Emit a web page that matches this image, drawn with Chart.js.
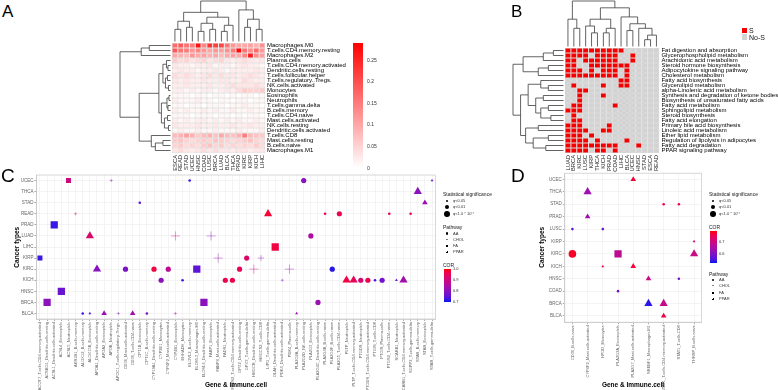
<!DOCTYPE html>
<html>
<head>
<meta charset="utf-8">
<title>Lipid metabolism and immune infiltration</title>
<script src="https://cdn.jsdelivr.net/npm/chart.js@4.4.1/dist/chart.umd.min.js"></script>
<style>
  body { margin:0; background:#fff; font-family:"Liberation Sans", Arial, sans-serif; }
  #page { position:relative; width:778px; height:390px; overflow:hidden; background:#fff; }
  #page canvas { position:absolute; }
  .t { position:absolute; white-space:nowrap; line-height:1; color:#1a1a1a; }
</style>
</head>
<body>
<div id="page">
  <canvas id="chartA" width="300" height="185" style="left:100px;top:0"></canvas>
  <canvas id="chartB" width="273" height="185" style="left:505px;top:0"></canvas>
  <canvas id="chartC" width="445" height="222" style="left:0;top:168px"></canvas>
  <canvas id="chartD" width="205" height="222" style="left:505px;top:168px"></canvas>
</div>
<script>
// ---------------- panel A : immune cell fraction heatmap ----------------
const cancerA = ["ESCA","READ","STAD","UCEC","HNSC","COAD","LUSC","BRCA","LUAD","BLCA","THCA","PRAD","KIRC","KIRP","KICH","LIHC"];
const cellsA = ["Macrophages.M0","T.cells.CD4.memory.resting","Macrophages.M2","Plasma.cells",
  "T.cells.CD4.memory.activated","Dendritic.cells.resting","T.cells.follicular.helper","T.cells.regulatory..Tregs.",
  "NK.cells.activated","Monocytes","Eosinophils","Neutrophils","T.cells.gamma.delta","B.cells.memory",
  "T.cells.CD4.naive","Mast.cells.activated","NK.cells.resting","Dendritic.cells.activated","T.cells.CD8",
  "Mast.cells.resting","B.cells.naive","Macrophages.M1"];
const fracA = [
  [0.17,0.19,0.16,0.15,0.27,0.14,0.23,0.22,0.21,0.16,0.12,0.10,0.10,0.11,0.09,0.13],
  [0.19,0.16,0.15,0.12,0.14,0.12,0.10,0.12,0.11,0.13,0.15,0.28,0.16,0.13,0.17,0.12],
  [0.10,0.09,0.08,0.12,0.10,0.11,0.09,0.10,0.08,0.10,0.11,0.10,0.14,0.26,0.13,0.11],
  [0.06,0.04,0.05,0.03,0.04,0.05,0.03,0.04,0.05,0.03,0.02,0.03,0.04,0.03,0.02,0.03],
  [0.03,0.02,0.02,0.01,0.02,0.02,0.03,0.01,0.02,0.02,0.01,0.02,0.03,0.02,0.02,0.01],
  [0.02,0.03,0.02,0.02,0.01,0.02,0.02,0.03,0.02,0.01,0.02,0.02,0.02,0.02,0.03,0.02],
  [0.04,0.03,0.04,0.03,0.02,0.03,0.04,0.03,0.04,0.03,0.03,0.02,0.03,0.04,0.03,0.02],
  [0.03,0.02,0.03,0.02,0.02,0.03,0.02,0.02,0.03,0.03,0.02,0.02,0.04,0.03,0.02,0.02],
  [0.02,0.02,0.03,0.02,0.02,0.02,0.03,0.02,0.02,0.03,0.04,0.03,0.03,0.03,0.04,0.03],
  [0.02,0.02,0.01,0.02,0.01,0.02,0.02,0.01,0.02,0.03,0.02,0.04,0.06,0.05,0.05,0.06],
  [0.01,0.01,0.01,0.00,0.01,0.01,0.00,0.01,0.01,0.00,0.01,0.00,0.01,0.01,0.00,0.01],
  [0.02,0.01,0.01,0.01,0.02,0.01,0.01,0.00,0.01,0.01,0.00,0.01,0.01,0.00,0.01,0.01],
  [0.01,0.01,0.00,0.01,0.01,0.00,0.01,0.01,0.01,0.00,0.01,0.01,0.02,0.01,0.01,0.00],
  [0.02,0.01,0.02,0.01,0.01,0.02,0.01,0.02,0.01,0.01,0.02,0.01,0.01,0.02,0.01,0.01],
  [0.01,0.01,0.01,0.00,0.01,0.01,0.01,0.00,0.01,0.01,0.00,0.01,0.00,0.01,0.01,0.00],
  [0.02,0.01,0.02,0.01,0.02,0.02,0.01,0.02,0.01,0.02,0.01,0.02,0.01,0.01,0.02,0.01],
  [0.03,0.02,0.02,0.02,0.03,0.02,0.02,0.03,0.02,0.02,0.03,0.02,0.02,0.03,0.02,0.02],
  [0.01,0.02,0.01,0.01,0.02,0.01,0.01,0.02,0.01,0.01,0.01,0.02,0.01,0.01,0.01,0.02],
  [0.08,0.09,0.11,0.09,0.06,0.08,0.09,0.07,0.10,0.08,0.07,0.09,0.15,0.08,0.07,0.06],
  [0.06,0.07,0.05,0.04,0.05,0.06,0.05,0.07,0.06,0.05,0.04,0.05,0.06,0.07,0.05,0.04],
  [0.05,0.06,0.04,0.05,0.04,0.06,0.07,0.05,0.06,0.04,0.05,0.04,0.05,0.04,0.06,0.04],
  [0.03,0.04,0.03,0.02,0.03,0.04,0.03,0.04,0.03,0.03,0.02,0.03,0.03,0.02,0.03,0.03]
];
const fracMaxA = 0.29;
const fracTicksA = [0.25, 0.2, 0.15, 0.1, 0.05, 0];
// dendrograms: [height, left, right], leaves are display indices
const rowTreeA = [1.0,
  [0.58, [0.42, 0, 1], 2],
  [0.62,
    [0.23,
      [0.15, [0.08, 3, [0.05, 4, 5]], [0.1, [0.06, 6, 7], [0.04, 8, 9]]],
      [0.18, [0.07, [0.03, 10, 11], [0.05, 12, 13]], [0.12, [0.06, 14, 15], [0.04, 16, 17]]]],
    [0.38, 18, [0.3, [0.15, 19, 20], 21]]]];
const colTreeA = [1.0,
  [0.72, [0.5, [0.3, 0, 1], [0.35, 2, 3]], [0.6, [0.45, [0.25, 4, 5], [0.3, 6, 7]], [0.4, [0.25, 8, 9], 10]]],
  [0.78, 11, [0.55, [0.35, 12, 13], [0.3, 14, 15]]]];

// ---------------- panel B : significance heatmap ----------------
const cancerB = ["LUAD","BRCA","KIRC","LUSC","KIRP","THCA","KICH","PRAD","COAD","LIHC","BLCA","UCEC","HNSC","STAD","ESCA","READ"];
const pathwaysB = ["Fat digestion and absorption","Glycerophospholipid metabolism","Arachidonic acid metabolism",
  "Steroid hormone biosynthesis","Adipocytokine signaling pathway","Cholesterol metabolism","Fatty acid biosynthesis",
  "Glycerolipid metabolism","alpha-Linolenic acid metabolism","Synthesis and degradation of ketone bodies",
  "Biosynthesis of unsaturated fatty acids","Fatty acid metabolism","Sphingolipid metabolism","Steroid biosynthesis",
  "Fatty acid elongation","Primary bile acid biosynthesis","Linoleic acid metabolism","Ether lipid metabolism",
  "Regulation of lipolysis in adipocytes","Fatty acid degradation","PPAR signaling pathway"];
const sigB = [
  [1,1,1,1,1,1,1,1,1,1,0,0,0,0,0,0],
  [1,1,1,1,0,1,1,1,1,0,0,1,0,0,0,0],
  [1,1,0,1,1,1,1,1,1,0,0,1,0,0,0,0],
  [1,1,0,0,1,1,1,1,1,1,1,0,0,0,0,0],
  [1,1,1,0,1,0,1,1,1,0,1,0,0,0,0,0],
  [1,1,1,1,1,1,1,1,1,0,1,0,0,0,0,0],
  [0,0,0,0,0,0,0,0,0,1,1,0,0,0,0,0],
  [0,1,0,0,0,0,1,0,0,1,1,0,0,0,0,0],
  [0,0,1,1,0,0,0,0,0,0,0,0,0,0,0,0],
  [0,0,1,0,0,0,1,0,0,0,0,0,0,0,0,0],
  [0,0,1,0,0,0,0,0,0,0,0,0,0,0,0,0],
  [0,1,1,0,0,0,0,0,1,0,0,0,0,0,0,0],
  [1,1,1,0,0,0,0,0,0,0,0,0,0,0,0,0],
  [0,1,0,0,0,0,0,0,0,0,0,0,0,0,0,0],
  [0,1,1,0,0,0,0,0,0,0,0,0,0,0,0,0],
  [1,1,1,0,0,0,0,1,0,0,0,0,0,0,0,0],
  [1,1,1,1,0,0,1,1,0,0,0,0,0,0,0,0],
  [1,1,1,0,1,0,0,0,0,0,0,0,0,0,0,0],
  [1,1,1,1,0,1,0,0,0,0,1,0,0,0,0,0],
  [1,1,1,1,1,1,1,1,1,0,0,0,1,0,0,0],
  [1,1,1,1,0,1,1,0,1,0,0,0,0,0,0,0]
];
const rowTreeB = [1.0,
  [0.8, [0.4, [0.2, 0, 1], 2], [0.5, [0.3, 3, 4], 5]],
  [0.85,
    [0.7, [0.45, 6, [0.3, 7, 8]], [0.55, [0.4, 9, 10], [0.45, [0.3, 11, 12], [0.25, 13, 14]]]],
    [0.75, [0.5, 15, 16], [0.6, [0.3, 17, 18], [0.35, 19, 20]]]]];
const colTreeB = [1.0,
  [0.6, 0, [0.4, 1, 2]],
  [0.85,
    [0.6, [0.45, 3, [0.3, 4, 5]], [0.4, [0.3, 6, 7], 8]],
    [0.65, 9, [0.5, [0.35, 10, 11], [0.4, 12, [0.25, [0.15, 13, 14], 15]]]]]];

// ---------------- panel C : gene / immune cell correlations ----------------
const geneC = ["ACOT7_T.cells.CD4.memory.activated","ACSBG1_Dendritic.cells.resting","ACSL1_Dendritic.cells.activated",
  "ACSL4_Eosinophils","ACSL5_Neutrophils","AKR1B1_B.cells.memory","ALOX12_B.cells.memory","ALOX15B_Eosinophils",
  "APOA1_Dendritic.cells.resting","APOA2_Eosinophils","APOB_Neutrophils","APOC1_T.cells.regulatory..Tregs.",
  "CD36_Mast.cells.activated","CD36_T.cells.CD4.naive","CPT1B_Eosinophils","CPT1C_B.cells.memory",
  "CYP19A1_Dendritic.cells.resting","CYP2E1_Monocytes","CYP4F2_Mast.cells.activated","CYP4B1_Eosinophils",
  "EHHADH_Monocytes","ELOVL2_B.cells.memory","ELOVL3_Macrophages.M0","ELOVL6_Dendritic.cells.resting",
  "FABP1_Eosinophils","FABP4_Mast.cells.activated","FADS1_Neutrophils","FADS2_T.cells.CD4.memory.activated",
  "GPX2_Dendritic.cells.resting","GPX3_T.cells.gamma.delta","HMGCR_Dendritic.cells.resting","HMGCS2_T.cells.CD8",
  "LIPG_T.cells.gamma.delta","OLAH_Dendritic.cells.activated","PDK4_Dendritic.cells.activated","PDK4_Plasma.cells",
  "PLA2G2A_B.cells.memory","PLA2G2D_NK.cells.resting","PLA2G3_Eosinophils","PLA2G4C_Dendritic.cells.resting",
  "PLA2G4B_B.cells.naive","PLA2G2F_B.cells.naive","PLA2G5_T.cells.CD4.naive","PLTP_Neutrophils",
  "PLTP_T.cells.CD4.memory.activated","PTGDS_Neutrophils","PTGDS_T.cells.CD4.memory.activated","PTGIS_T.cells.CD8",
  "PTGIS_Plasma.cells","PTGS2_T.cells.CD4.naive","SCARB1_Neutrophils","SCARB1_T.cells.CD4.memory.activated",
  "SGPP2_T.cells.gamma.delta","STAR_B.cells.memory","STAR_Eosinophils","STAR_T.cells.gamma.delta"];
const cancerC = ["UCEC","THCA","STAD","READ","PRAD","LUAD","LIHC","KIRP","KIRC","KICH","HNSC","BRCA","BLCA"];
const ptGeneC   = [4,10,21,37,55, 53, 14,54, 5,32,40,42,49,52, 2, 7,19,24,38, 33, 0,25,29,31,
                   8,12,16,18,22,28,30,35,41, 17,20,26,27,34,43,44,45,46,47,48,50,51, 3, 1,23,39,
                   6,7,9,11,13,15,19,36];
const ptCancerC = ["UCEC","UCEC","UCEC","UCEC","UCEC","THCA","STAD","STAD","READ","READ","READ","READ","READ","READ",
                   "PRAD","LUAD","LUAD","LUAD","LUAD","LIHC","KIRP","KIRP","KIRP","KIRP",
                   "KIRC","KIRC","KIRC","KIRC","KIRC","KIRC","KIRC","KIRC","KIRC",
                   "KICH","KICH","KICH","KICH","KICH","KICH","KICH","KICH","KICH","KICH","KICH","KICH","KICH",
                   "HNSC","BRCA","BRCA","BRCA","BLCA","BLCA","BLCA","BLCA","BLCA","BLCA","BLCA","BLCA"];
const ptCorC    = [0.9,0.8,0.72,0.8,0.75, 0.8, 0.75,0.82, 0.92,0.98,0.97,0.96,0.95,0.95, 0.72, 0.93,0.9,0.8,0.85, 0.97,
                   0.72,0.82,0.93,0.8, 0.8,0.78,0.97,0.87,0.75,0.95,0.9,0.82,0.71,
                   0.8,0.72,0.96,0.96,0.8,0.97,0.95,0.92,0.96,0.72,0.77,0.76,0.83, 0.76, 0.8,0.8,0.82,
                   0.72,0.75,0.82,0.8,0.83,0.78,0.85,0.82];
const ptQC      = [2,1,1,2,1, 3, 1,2, 1,3,1,2,1,1, 3, 3,3,3,2, 3, 2,3,2,2, 3,2,2,2,3,2,3,3,2,
                   2,1,2,2,1,3,3,2,2,1,2,1,3, 3, 3,3,2, 1,1,2,1,2,1,1,1];
const ptPathC   = ["FA","PPAR","AA","AA","CHOL", "CHOL", "AA","CHOL", "PPAR","CHOL","AA","AA","AA","AA",
                   "FA","CHOL","PPAR","PPAR","AA", "FA", "FA","PPAR","AA","PPAR",
                   "CHOL","AA","AA","AA","FA","AA","PPAR","PPAR","AA",
                   "AA","AA","AA","AA","PPAR","CHOL","CHOL","AA","AA","AA","AA","CHOL","CHOL", "FA",
                   "FA","FA","AA", "AA","CHOL","CHOL","PPAR","CHOL","AA","PPAR","CHOL"];
const corRangeC = [0.7, 1.0];
const corTicksC = [1.0, 0.9, 0.8, 0.7];

// ---------------- panel D ----------------
const geneD = ["CD36_B.cells.naive","CYP4F2_Mast.cells.activated","HPGD_Monocytes","PLA2G2A_Eosinophils",
  "PLA2G7_Mast.cells.activated","SREBF1_Macrophages.M1","STAT1_T.cells.CD4.memory.activated","STAT1_T.cells.CD8",
  "THRSP_B.cells.naive"];
const cancerD = ["UCEC","THCA","STAD","PRAD","LUSC","KIRP","KIRC","KICH","HNSC","COAD","BRCA","BLCA"];
const ptGeneD   = [4,1,6,7,1,0,2,8,0,3,8,2,4,5,7,3,5,6,6];
const ptCancerD = ["UCEC","THCA","STAD","STAD","PRAD","LUSC","LUSC","KIRP","KIRC","KIRC","KIRC",
                   "KICH","KICH","HNSC","HNSC","COAD","BRCA","BRCA","BLCA"];
const ptCorD    = [0.77,0.64,0.76,0.75,0.64,0.57,0.58,0.7,0.78,0.68,0.7,0.76,0.77,0.7,0.6,0.6,0.54,0.69,0.76];
const ptQD      = [2,3,1,1,2,1,1,1,3,3,3,1,2,2,1,1,3,3,2];
const ptPathD   = ["CHOL","CHOL","AA","AA","CHOL","AA","AA","CHOL","AA","FA","CHOL",
                   "CHOL","CHOL","CHOL","AA","AA","CHOL","CHOL","CHOL"];
const corRangeD = [0.53, 0.79];
const corTicksD = [0.7, 0.6];

const qLabels = ["q<0.05", "q<0.01", "q<1.0 * 10\u207B\u2074"];
const pathNames = ["AA", "CHOL", "FA", "PPAR"];

// ---------------- helpers ----------------
Chart.defaults.font.family = "'Liberation Sans', Arial, sans-serif";
const page = document.getElementById('page');

function addText(txt, x, y, size, extra) {
  const d = document.createElement('div');
  d.className = 't';
  d.textContent = txt;
  d.style.left = x + 'px';
  d.style.top = (y - size / 2) + 'px';
  d.style.fontSize = size + 'px';
  if (extra) Object.assign(d.style, extra);
  page.appendChild(d);
  return d;
}

function addBox(x, y, w, h, bg) {
  const d = document.createElement('div');
  d.style.position = 'absolute';
  d.style.left = x + 'px'; d.style.top = y + 'px';
  d.style.width = w + 'px'; d.style.height = h + 'px';
  d.style.background = bg;
  page.appendChild(d);
  return d;
}

function addSym(shape, x, y, r, color) {
  if (shape === 'circle' || shape === 'rect') {
    const d = addBox(x - r, y - r, 2 * r, 2 * r, color);
    if (shape === 'circle') d.style.borderRadius = '50%';
  } else if (shape === 'triangle') {
    const d = addBox(x - r, y - r, 0, 0, 'transparent');
    d.style.borderLeft = r + 'px solid transparent';
    d.style.borderRight = r + 'px solid transparent';
    d.style.borderBottom = (1.7 * r) + 'px solid ' + color;
  } else {
    addBox(x - r, y - 0.3, 2 * r, 0.6, color);
    addBox(x - 0.3, y - r, 0.6, 2 * r, color);
  }
}

function corColor(v, lo, hi, a) {
  const t = Math.max(0, Math.min(1, (v - lo) / (hi - lo)));
  const r = Math.round(255 * Math.pow(t, 0.55));
  const b = Math.round(235 * Math.pow(1 - t, 0.55));
  const g = Math.round(25 * (1 - t));
  return 'rgba(' + r + ',' + g + ',' + b + ',' + (a === undefined ? 1 : a) + ')';
}

function heatColorA(v) {
  const t = Math.min(1, v / fracMaxA);
  const gb = Math.round(255 * (1 - t));
  return 'rgb(255,' + gb + ',' + gb + ')';
}

function walk(ctx, node, leafPix, hPix, vertical) {
  if (typeof node === 'number') return { p: leafPix(node), q: hPix(0) };
  const a = walk(ctx, node[1], leafPix, hPix, vertical);
  const b = walk(ctx, node[2], leafPix, hPix, vertical);
  const q = hPix(node[0]);
  if (vertical) {
    ctx.moveTo(a.p, a.q); ctx.lineTo(a.p, q); ctx.lineTo(b.p, q); ctx.lineTo(b.p, b.q);
  } else {
    ctx.moveTo(a.q, a.p); ctx.lineTo(q, a.p); ctx.lineTo(q, b.p); ctx.lineTo(b.q, b.p);
  }
  return { p: (a.p + b.p) / 2, q: q };
}

function makeDendro(id, rowTree, colTree, rowRoot, colRoot) {
  return {
    id: id,
    afterDraw(chart) {
      const ctx = chart.ctx, area = chart.chartArea;
      const xs = chart.scales.x, ys = chart.scales.yLab;
      ctx.save();
      ctx.strokeStyle = '#3c3c3c';
      ctx.lineWidth = 0.8;
      ctx.beginPath();
      const colBase = area.top - 1.5;
      walk(ctx, colTree, i => xs.getPixelForValue(i), h => colBase - h * (colBase - colRoot), true);
      const rowBase = area.left - 1.5;
      walk(ctx, rowTree, i => ys.getPixelForValue(i), h => rowBase - h * (rowBase - rowRoot), false);
      ctx.stroke();
      ctx.restore();
    }
  };
}

const framePlugin = {
  id: 'frame',
  afterDatasetsDraw(chart) {
    const a = chart.chartArea, ctx = chart.ctx;
    ctx.save();
    ctx.strokeStyle = '#c6c6c6';
    ctx.lineWidth = 0.7;
    ctx.strokeRect(a.left, a.top, a.right - a.left, a.bottom - a.top);
    ctx.restore();
  }
};

function heatChart(canvasId, cols, rows, colorRows, border, padLeft, padTop, rightW, bottomH, rowFont, plugin) {
  const datasets = rows.map((name, r) => ({
    label: name,
    data: cols.map(() => 1),
    backgroundColor: colorRows[r],
    borderColor: border,
    borderWidth: 0.5,
    borderSkipped: false,
    inflateAmount: 0,
    barPercentage: 1,
    categoryPercentage: 1
  })).reverse();
  return new Chart(document.getElementById(canvasId), {
    type: 'bar',
    data: { labels: cols, datasets: datasets },
    options: {
      responsive: false, animation: false, events: [],
      layout: { padding: { left: padLeft, top: padTop, right: 0, bottom: 0 } },
      plugins: { legend: { display: false }, tooltip: { enabled: false } },
      scales: {
        x: { stacked: true, grid: { display: false, drawTicks: false }, border: { display: false },
             ticks: { autoSkip: false, minRotation: 90, maxRotation: 90, font: { size: 5.8 }, color: '#222', padding: 2 },
             afterFit: s => { s.height = bottomH; } },
        y: { stacked: true, display: false, min: 0, max: rows.length },
        yLab: { type: 'category', labels: rows, position: 'right', offset: true,
                grid: { display: false, drawTicks: false }, border: { display: false },
                ticks: { autoSkip: false, font: { size: rowFont }, color: '#000', padding: 2 },
                afterFit: s => { s.width = rightW; } }
      }
    },
    plugins: [plugin]
  });
}

const pathStyle = { AA: 'circle', CHOL: 'triangle', FA: 'rect', PPAR: 'cross' };
const qRad = [0, 1.3, 2.6, 3.8];
const styleScale = { circle: 1, triangle: 1.25, rect: 1.35, cross: 1.2 };

function bubbleChart(canvasId, genes, cancers, ptGene, ptCancer, ptCor, ptQ, ptPath, range, padTop, padRight, leftW, bottomH) {
  const styles = ptPath.map(p => pathStyle[p]);
  const gridOpt = { color: '#ececec', lineWidth: 0.6, tickLength: 2, tickColor: '#555', tickWidth: 0.5 };
  return new Chart(document.getElementById(canvasId), {
    type: 'scatter',
    data: {
      datasets: [{
        data: ptGene.map((g, i) => ({ x: genes[g], y: ptCancer[i] })),
        pointStyle: styles,
        pointRadius: ptQ.map((q, i) => qRad[q] * styleScale[styles[i]]),
        backgroundColor: ptCor.map(c => corColor(c, range[0], range[1])),
        borderColor: ptCor.map((c, i) => styles[i] === 'cross' ? corColor(c, range[0], range[1], 0.45) : corColor(c, range[0], range[1])),
        borderWidth: styles.map(s => s === 'cross' ? 0.9 : 0)
      }]
    },
    options: {
      responsive: false, animation: false, events: [],
      layout: { padding: { left: 0, top: padTop, right: padRight, bottom: 0 } },
      plugins: { legend: { display: false }, tooltip: { enabled: false } },
      scales: {
        x: { type: 'category', labels: genes, offset: true, grid: gridOpt,
             border: { color: '#c6c6c6', width: 0.7 },
             ticks: { autoSkip: false, minRotation: 90, maxRotation: 90, font: { size: 4 }, color: '#666', padding: 1 },
             afterFit: s => { s.height = bottomH; } },
        y: { type: 'category', labels: cancers, offset: true, grid: gridOpt,
             border: { color: '#c6c6c6', width: 0.7 },
             ticks: { autoSkip: false, font: { size: 4.5 }, color: '#666', padding: 1 },
             afterFit: s => { s.width = leftW; } }
      }
    },
    plugins: [framePlugin]
  });
}

// ---------------- draw ----------------
heatChart('chartA', cancerA, cellsA, fracA.map(r => r.map(heatColorA)), '#cdcdcd',
          72, 43, 135, 32, 6, makeDendro('dendroA', rowTreeA, colTreeA, 20, 1));
heatChart('chartB', cancerB, pathwaysB, sigB.map(r => r.map(v => v ? '#f50000' : '#d3d3d3')), '#bdbdbd',
          60, 48, 118.6, 32, 6, makeDendro('dendroB', rowTreeB, colTreeB, 8, 1));
bubbleChart('chartC', geneC, cancerC, ptGeneC, ptCancerC, ptCorC, ptQC, ptPathC, corRangeC, 7, 9.4, 36.4, 71);
bubbleChart('chartD', geneD, cancerD, ptGeneD, ptCancerD, ptCorD, ptQD, ptPathD, corRangeD, 5.2, 8.3, 59.8, 67.8);

// panel letters
addText('A', 2, 11, 17, { color: '#000' });
addText('B', 511, 11, 17, { color: '#000' });
addText('C', 1, 175, 19, { color: '#000' });
addText('D', 511, 175, 19, { color: '#000' });

// panel A colour bar
addBox(353, 43, 10, 125, 'linear-gradient(to bottom, ' + heatColorA(fracMaxA) + ', #ffffff)');
fracTicksA.forEach(v => {
  const y = 168 - (v / fracMaxA) * 125;
  addText(String(v), 367, y, 5, { color: '#333' });
});

// panel B legend
addBox(741.5, 27.5, 5.5, 5.5, '#f50000');
addBox(741.5, 34, 5.5, 5.5, '#d3d3d3');
addText('S', 749, 30.5, 7, { color: '#111' });
addText('No-S', 749, 37.5, 7, { color: '#111' });

// axis titles for C and D
const bold = { fontWeight: 'bold', color: '#000', transform: 'translate(-50%, 0)' };
addText('Gene & immune.cell', 236, 385, 6.5, bold);
addText('Gene & Immune.cell', 633, 385, 6.5, bold);
const vbold = { fontWeight: 'bold', color: '#000', transform: 'translate(-50%, 0) rotate(-90deg)' };
addText('Cancer types', 17, 247, 6.5, vbold);
addText('Cancer types', 542, 247, 6.5, vbold);

function corGradient(range) {
  const stops = [];
  for (let k = 0; k <= 10; k++) stops.push(corColor(range[1] - (range[1] - range[0]) * k / 10, range[0], range[1]));
  return 'linear-gradient(to bottom, ' + stops.join(', ') + ')';
}

function bubbleLegend(x, ySig, yPath, yCor, barTop, barBottom, range, ticks) {
  addText('Statistical significance', x, ySig, 5);
  qLabels.forEach((lab, i) => {
    const y = ySig + 6.7 * (i + 1);
    addSym('circle', x + 4, y, [1.2, 2.1, 2.9][i], '#000');
    addText(lab, x + 10, y, 4, { color: '#333' });
  });
  addText('Pathway', x, yPath, 5);
  pathNames.forEach((p, i) => {
    const y = yPath + 6.2 + 6.2 * i;
    addSym(pathStyle[p], x + 4, y, 1.1, '#000');
    addText(p, x + 10, y, 4, { color: '#333' });
  });
  addText('COR', x, yCor, 5);
  addBox(x + 1, barTop, 7, barBottom - barTop, corGradient(range));
  ticks.forEach(v => {
    const y = barBottom - (v - range[0]) / (range[1] - range[0]) * (barBottom - barTop);
    addText(v.toFixed(1), x + 10, y, 4, { color: '#333' });
  });
}
bubbleLegend(443, 194, 227.3, 265.5, 269.3, 302.3, corRangeC, corTicksC);
bubbleLegend(709, 194, 274, 227, 230.7, 262.7, corRangeD, corTicksD);
</script>
</body>
</html>
